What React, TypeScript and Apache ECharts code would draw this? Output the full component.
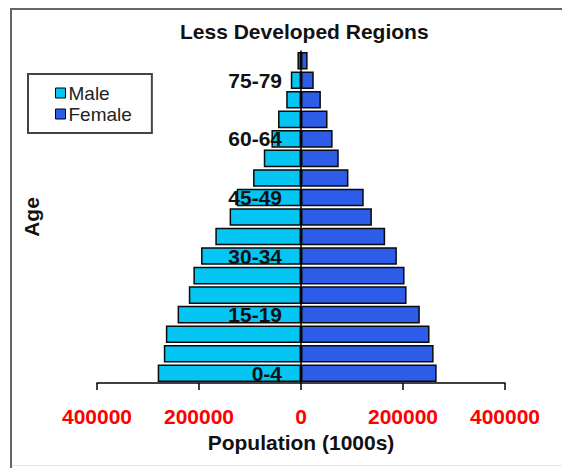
import React, { useEffect, useRef } from "react";
import * as echarts from "echarts";

const ageGroups = [
  "0-4", "5-9", "10-14", "15-19", "20-24", "25-29", "30-34", "35-39",
  "40-44", "45-49", "50-54", "55-59", "60-64", "65-69", "70-74", "75-79", "80+",
];
const maleValues = [
  281000, 269000, 265000, 242000, 220000, 211000, 196000, 168000,
  140000, 126000, 94000, 73000, 58000, 45000, 29000, 20000, 7000,
];
const femaleValues = [
  266000, 260000, 252000, 233000, 207000, 203000, 188000, 165000,
  139000, 123000, 93000, 74000, 62000, 52000, 39000, 25000, 13000,
];
const xTicks = { min: -400000, max: 400000, interval: 200000 };

const FONT = "'Liberation Sans', Arial, sans-serif";

export default function App() {
  const ref = useRef<HTMLDivElement>(null);
  useEffect(() => {
    const chart = echarts.init(ref.current!, undefined, { renderer: "svg" });
    chart.setOption({
      animation: false,
      backgroundColor: "#ffffff",
      title: {
        text: "Less Developed Regions",
        left: 180,
        top: 21,
        padding: 0,
        textStyle: { fontFamily: FONT, fontSize: 21, fontWeight: "bold", color: "#111" },
      },
      legend: {
        orient: "vertical",
        left: 28,
        top: 74,
        padding: [9, 20, 9, 27],
        itemGap: 1,
        itemWidth: 10,
        itemHeight: 10,
        icon: "rect",
        itemStyle: { borderColor: "#000", borderWidth: 1 },
        borderColor: "#444",
        borderWidth: 2,
        textStyle: { fontFamily: FONT, fontSize: 19, color: "#222", lineHeight: 20, padding: [0, 0, 0, -2] },
        data: ["Male", "Female"],
      },
      grid: { left: 97, right: 57, top: 51, bottom: 85, containLabel: false },
      xAxis: {
        type: "value",
        min: xTicks.min,
        max: xTicks.max,
        interval: xTicks.interval,
        axisLine: { show: true, onZero: false, lineStyle: { color: "#000", width: 1.5 } },
        axisTick: { show: true, length: 7, lineStyle: { color: "#000", width: 1.5 } },
        splitLine: { show: false },
        axisLabel: {
          margin: 23,
          color: "#ff0000",
          fontFamily: FONT,
          fontSize: 21,
          fontWeight: "bold",
          formatter: (v: number) => String(Math.abs(v)),
        },
        name: "Population (1000s)",
        nameLocation: "middle",
        nameGap: 49,
        nameTextStyle: { fontFamily: FONT, fontSize: 21, fontWeight: "bold", color: "#111" },
      },
      yAxis: [
        {
          type: "category",
          data: ageGroups,
          z: 10,
          position: "left",
          offset: -204,
          axisLine: { show: true, onZero: false, lineStyle: { color: "#000", width: 1.5 } },
          axisTick: { show: false },
          axisLabel: {
            interval: 2,
            margin: 19,
            color: "#111",
            fontFamily: FONT,
            fontSize: 21,
            fontWeight: "bold",
          },
          splitLine: { show: false },
        },
        {
          type: "category",
          data: ageGroups,
          position: "left",
          offset: 0,
          axisLine: { show: false, onZero: false },
          axisTick: { show: false },
          axisLabel: { show: false },
          splitLine: { show: false },
          name: "Age",
          nameLocation: "middle",
          nameGap: 55,
          nameRotate: 90,
          nameTextStyle: { fontFamily: FONT, fontSize: 21, fontWeight: "bold", color: "#111" },
        },
      ],
      series: [
        {
          name: "Male",
          type: "bar",
          yAxisIndex: 0,
          data: maleValues.map((v) => -v),
          barCategoryGap: "10%",
          barGap: "-100%",
          itemStyle: { color: "#05c6f2", borderColor: "#0a0a0a", borderWidth: 1.5 },
        },
        {
          name: "Female",
          type: "bar",
          yAxisIndex: 0,
          data: femaleValues,
          barCategoryGap: "10%",
          barGap: "-100%",
          itemStyle: { color: "#2d5de8", borderColor: "#0a0a0a", borderWidth: 1.5 },
        },
      ],
      graphic: [
        { type: "line", shape: { x1: 11, y1: 9, x2: 11, y2: 468 }, style: { stroke: "#666", lineWidth: 2 } },
        { type: "line", shape: { x1: 10, y1: 9, x2: 562, y2: 9 }, style: { stroke: "#666", lineWidth: 2 } },
        { type: "line", shape: { x1: 12, y1: 465.5, x2: 562, y2: 465.5 }, style: { stroke: "#e4e4e4", lineWidth: 1 } },
      ],
    });
    return () => chart.dispose();
  }, []);
  return (
    <div
      ref={ref}
      style={{ position: "fixed", left: 0, top: 0, width: 562, height: 468 }}
    />
  );
}
